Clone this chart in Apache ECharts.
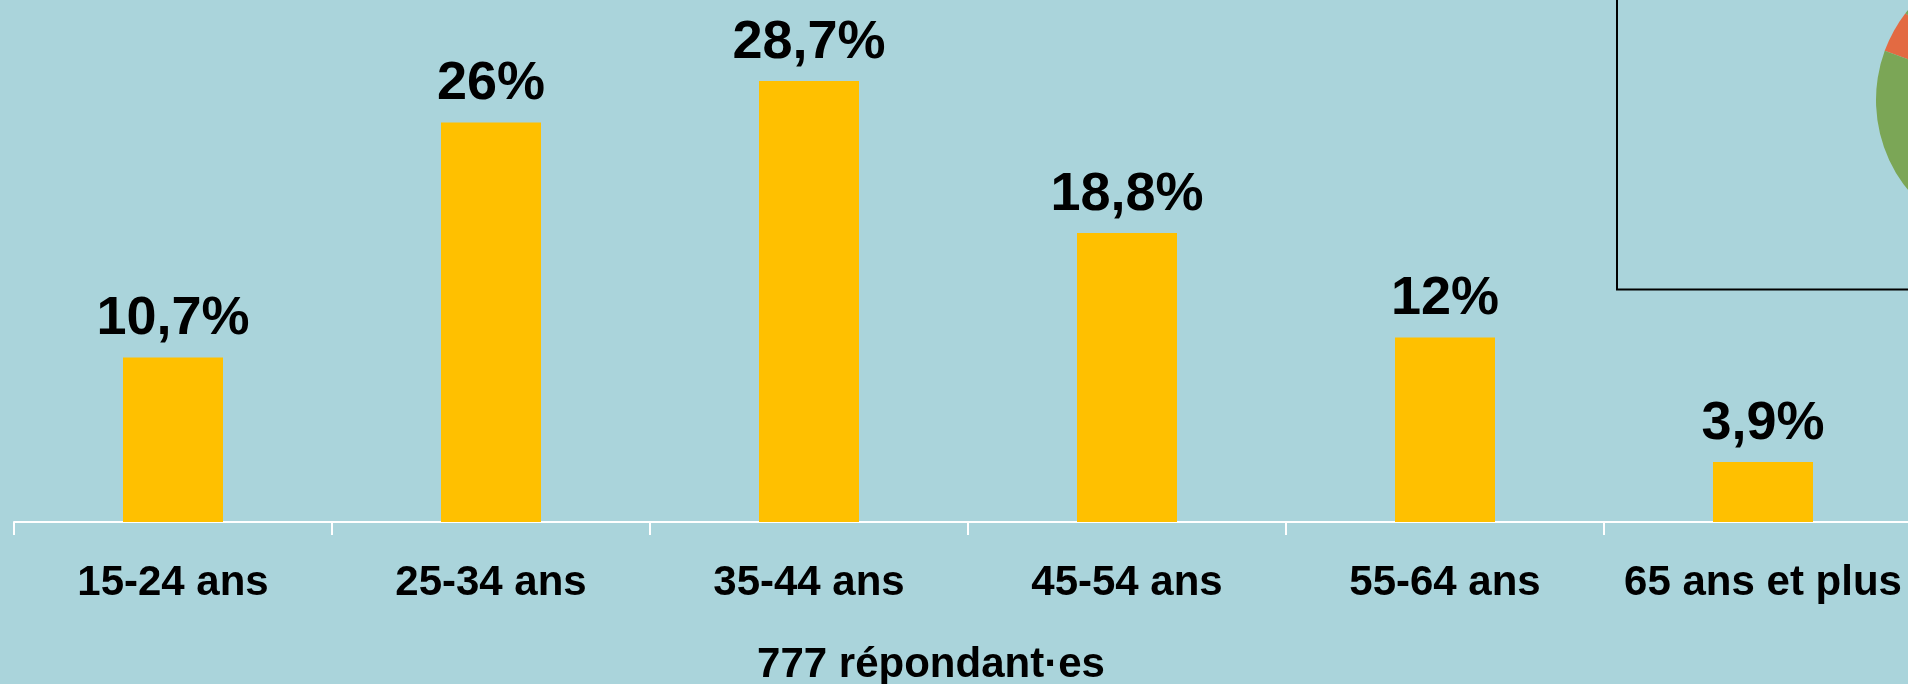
<!DOCTYPE html>
<html>
<head>
<meta charset="utf-8">
<script src="https://cdn.jsdelivr.net/npm/echarts@6/dist/echarts.min.js"></script>
<style>
  html, body { margin: 0; padding: 0; background: #AAD4DB; overflow: hidden; width: 1908px; height: 684px; }
  #chart { width: 1940px; height: 684px; }
</style>
</head>
<body>
<div id="chart"></div>
<script>
const categories = ['15-24 ans', '25-34 ans', '35-44 ans', '45-54 ans', '55-64 ans', '65 ans et plus'];
const values = [10.7, 26, 28.7, 18.8, 12, 3.9];
const axisTitle = '777 répondant·es';
const insetNames = ['Orange', 'Vert'];
const insetValues = [4.8, 95.2];

const FONT = "'Liberation Sans', Arial, sans-serif";
const chart = echarts.init(document.getElementById('chart'), null, { renderer: 'canvas' });

chart.setOption({
  backgroundColor: '#AAD4DB',
  animation: false,
  grid: { left: 14, right: 18, top: 61, height: 461, containLabel: false },
  xAxis: {
    type: 'category',
    data: categories,
    axisLine: { show: true, lineStyle: { color: '#ffffff', width: 2 } },
    axisTick: { show: true, length: 13, lineStyle: { color: '#ffffff', width: 2 } },
    axisLabel: {
      interval: 0, margin: 40,
      color: '#000', fontFamily: FONT, fontWeight: 'bold', fontSize: 42
    }
  },
  yAxis: {
    type: 'value', min: 0, max: 30, show: false,
    splitLine: { show: false }
  },
  series: [
    {
      type: 'bar',
      data: values,
      barWidth: 100,
      itemStyle: { color: '#FFC000' },
      label: {
        show: true, position: 'top', distance: 11,
        color: '#000', fontFamily: FONT, fontWeight: 'bold', fontSize: 54,
        formatter: p => String(p.value).replace('.', ',') + '%'
      },
      z: 2
    },
    {
      type: 'pie',
      center: [2019, 100],
      radius: 143,
      startAngle: 142.6,
      clockwise: false,
      label: { show: false },
      labelLine: { show: false },
      silent: true,
      data: insetNames.map((n, i) => ({
        name: n, value: insetValues[i],
        itemStyle: { color: i === 0 ? '#E36A42' : '#7BA656' }
      })),
      z: 5
    }
  ],
  graphic: [
    {
      type: 'rect',
      shape: { x: 1617, y: -10, width: 400, height: 299.5 },
      style: { fill: 'none', stroke: '#000', lineWidth: 2 },
      z: 1
    },
    {
      type: 'text',
      x: 931, y: 665,
      style: {
        text: axisTitle,
        fill: '#000',
        font: 'bold 42px ' + FONT,
        textAlign: 'center',
        textVerticalAlign: 'middle'
      }
    }
  ]
});
</script>
</body>
</html>
